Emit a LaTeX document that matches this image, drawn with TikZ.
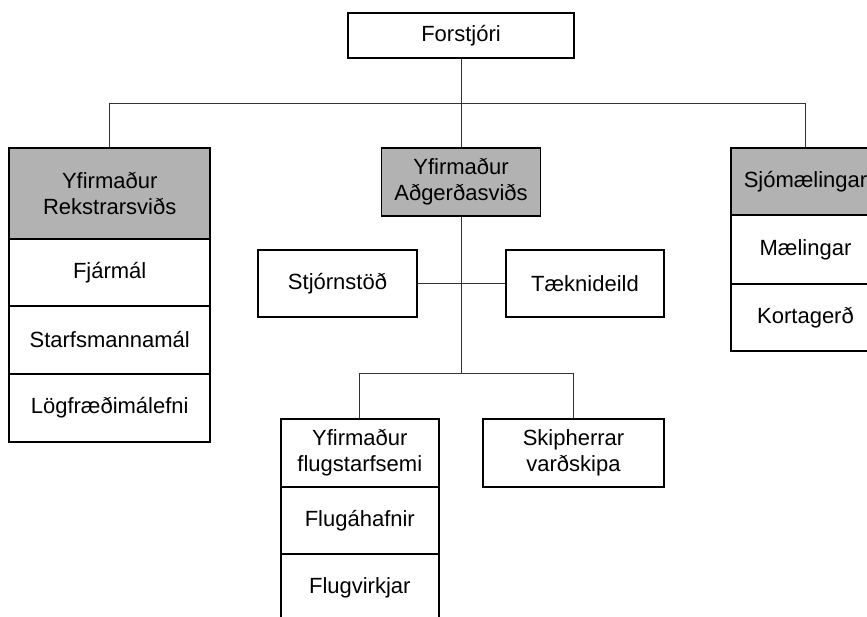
\documentclass[tikz,border=0pt]{standalone}
\usepackage{fontspec}
\setmainfont{Liberation Sans}
\begin{document}
\begin{tikzpicture}[x=1pt,y=-1pt,
  box/.style={draw=black, line width=1.6pt, fill=white, inner sep=0pt, align=center,
    font=\fontsize{22}{26}\selectfont},
  head/.style={box, fill=headgray},
  conn/.style={draw=black!80, line width=1pt}]
\definecolor{headgray}{RGB}{178,178,178}
\clip (0,0) rectangle (867,616);
% top
\node[box, minimum width=226, minimum height=45] (forst) at (461,35.5) {Forstjóri};
% left column
\node[head, minimum width=201, minimum height=91] (rek) at (109.7,193.5) {Yfirmaður\\Rekstrarsviðs};
\node[box, minimum width=201, minimum height=67] (fjar) at (109.7,272.5) {Fjármál};
\node[box, minimum width=201, minimum height=68] (starf) at (109.7,340) {Starfsmannamál};
\node[box, minimum width=201, minimum height=68] (log) at (109.7,408) {Lögfræðimálefni};
% center
\node[head, minimum width=159, minimum height=68] (agd) at (461,182) {Yfirmaður\\Aðgerðasviðs};
\node[box, minimum width=159, minimum height=67] (stj) at (337.5,283.5) {Stjórnstöð};
\node[box, minimum width=158, minimum height=67] (tek) at (585,283.5) {Tæknideild};
\node[box, minimum width=158, minimum height=68] (flug) at (359.8,453) {Yfirmaður\\flugstarfsemi};
\node[box, minimum width=158, minimum height=67] (flah) at (359.8,520.5) {Flugáhafnir};
\node[box, minimum width=158, minimum height=68] (flvi) at (359.8,588) {Flugvirkjar};
\node[box, minimum width=181, minimum height=68] (skip) at (573.5,453) {Skipherrar\\varðskipa};
% right column
\node[head, minimum width=149, minimum height=67] (sjo) at (805.5,181.5) {Sjómælingar};
\node[box, minimum width=149, minimum height=69] (mael) at (805.5,249.5) {Mælingar};
\node[box, minimum width=149, minimum height=67] (kort) at (805.5,317.5) {Kortagerð};
% connectors
\coordinate (bus) at (0,103);
\coordinate (bus2) at (0,373.7);
\draw[conn] (forst.south) -- (agd.north);
\draw[conn] (rek.north) -- (rek.north |- bus) -- (sjo.north |- bus) -- (sjo.north);
\draw[conn] (agd.south) -- (agd.south |- bus2);
\draw[conn] (stj.east) -- (tek.west);
\draw[conn] (flug.north) -- (flug.north |- bus2) -- (skip.north |- bus2) -- (skip.north);
\end{tikzpicture}
\end{document}
